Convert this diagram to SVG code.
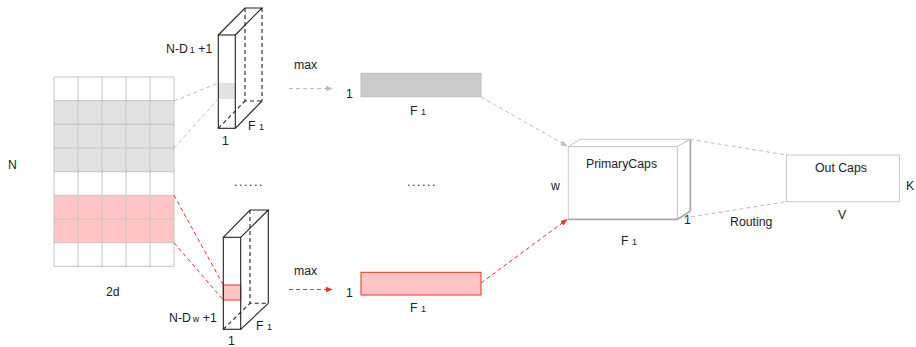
<svg xmlns="http://www.w3.org/2000/svg" width="916" height="347" viewBox="0 0 916 347">
<defs>
<style>
text{font-family:"Liberation Sans",Arial,sans-serif;font-size:12.3px;fill:#222}
.sub{font-size:9px}
.grid{stroke:#c4c4c4;stroke-width:1;fill:none}
.cub{stroke:#222;stroke-width:1.1;fill:none}
.cubd{stroke:#222;stroke-width:1.1;fill:none;stroke-dasharray:4 3}
.gd{stroke:#bdbdbd;stroke-width:1;fill:none;stroke-dasharray:4 3}
.rd{stroke:#e8321e;stroke-width:1;fill:none;stroke-dasharray:4 3}
.dots{letter-spacing:1.6px}
</style>
<marker id="ag" viewBox="0 0 10 10" refX="9" refY="5" markerWidth="7" markerHeight="7" orient="auto" markerUnits="userSpaceOnUse"><path d="M0,1 L10,5 L0,9 z" fill="#bdbdbd"/></marker>
<marker id="ar" viewBox="0 0 10 10" refX="9" refY="5" markerWidth="7" markerHeight="7" orient="auto" markerUnits="userSpaceOnUse"><path d="M0,1 L10,5 L0,9 z" fill="#e8321e"/></marker>
</defs>
<rect width="916" height="347" fill="#fff"/>

<g id="grid">
<rect x="54" y="100.7" width="120" height="71" fill="#e2e2e2"/>
<rect x="54" y="195.3" width="120" height="47.4" fill="#ffc4c4"/>
<path class="grid" d="M54,77H174M54,100.7H174M54,124.3H174M54,148H174M54,171.7H174M54,195.3H174M54,219H174M54,242.7H174M54,266.3H174M54,77V266.3M78,77V266.3M102,77V266.3M126,77V266.3M150,77V266.3M174,77V266.3"/>
<text x="8" y="169">N</text>
<text x="106" y="296">2d</text>
</g>

<g id="cuboid-top">
<rect x="218.3" y="83" width="17" height="16" fill="#e2e2e2"/>
<rect class="cub" x="218.3" y="35" width="17" height="93.3"/>
<path class="cub" d="M218.3,35L245,8H262L235.3,35M235.3,128.3L262,101"/>
<path class="cubd" d="M245,8V101H262M218.3,128.3L245,101M262,8V101"/>
<text x="166" y="53">N-D<tspan class="sub" dx="2">1</tspan> +1</text>
<text x="248" y="130">F <tspan class="sub">1</tspan></text>
<text x="222" y="145">1</text>
</g>

<g id="cuboid-bottom">
<rect x="223.3" y="285" width="17.4" height="15" fill="#ffc4c4" stroke="#e8321e" stroke-width="1"/>
<rect class="cub" x="223.3" y="237.3" width="17.4" height="92"/>
<path class="cub" d="M223.3,237.3L250,210H268.3L240.7,237.3M240.7,329.3L268.3,303.3M268.3,210V303.3"/>
<path class="cubd" d="M250,210V303.3H268.3M223.3,329.3L250,303.3"/>
<text x="169" y="322">N-D<tspan class="sub" dx="2">w</tspan> +1</text>
<text x="256" y="330">F <tspan class="sub">1</tspan></text>
<text x="228" y="345">1</text>
</g>

<g id="dots">
<text class="dots" x="234" y="186">......</text>
<text class="dots" x="407" y="186">......</text>
</g>

<g id="bar-top">
<rect x="361" y="73.3" width="120" height="23.4" fill="#cbcbcb" stroke="#bdbdbd" stroke-width="1"/>
<text x="346" y="98">1</text>
<text x="410" y="115">F <tspan class="sub">1</tspan></text>
<text x="294" y="69">max</text>
</g>

<g id="bar-bottom">
<rect x="361" y="272.3" width="120" height="22.7" fill="#ffc4c4" stroke="#e8321e" stroke-width="1"/>
<text x="346" y="297">1</text>
<text x="410" y="312">F <tspan class="sub">1</tspan></text>
<text x="294" y="275">max</text>
</g>

<g id="primarycaps">
<path d="M568.3,146.7L580,139.3H690L677.3,146.7Z" fill="#fff" stroke="#c8c8c8" stroke-width="1"/>
<path d="M677.3,146.7L690,139.3V211L677.3,219Z" fill="#fff" stroke="#c8c8c8" stroke-width="1"/>
<rect x="568.3" y="146.7" width="109" height="72.3" fill="#fff" stroke="#c8c8c8" stroke-width="1"/>
<path d="M568.3,219.5H677.3L690,211.5M690.5,139.5V211.5" fill="none" stroke="#a8a8a8" stroke-width="1.5"/>
<text x="586" y="168">PrimaryCaps</text>
<text x="551" y="190">w</text>
<text x="684" y="224">1</text>
<text x="621" y="245">F <tspan class="sub">1</tspan></text>
</g>

<g id="outcaps">
<rect x="786.5" y="155" width="113" height="46.7" fill="#fff" stroke="#c8c8c8" stroke-width="1"/>
<text x="815" y="172">Out Caps</text>
<text x="838" y="219">V</text>
<text x="906" y="190">K</text>
</g>

<g id="connectors">
<path class="gd" d="M174,101L218.3,83M174,148L218.3,99"/>
<path class="rd" d="M174,195.3L223.3,285M174,242.7L223.3,300"/>
<path class="gd" d="M289,88.5H332" marker-end="url(#ag)"/>
<path class="rd" d="M289,289.5H332" marker-end="url(#ar)"/>
<path class="gd" d="M481,97L567,146" marker-end="url(#ag)"/>
<path class="rd" d="M481,283L567,219.5" marker-end="url(#ar)"/>
<path class="gd" d="M690,139.3L786.5,155M684,218L786.5,201.7"/>
<text x="730" y="226">Routing</text>
</g>
</svg>
